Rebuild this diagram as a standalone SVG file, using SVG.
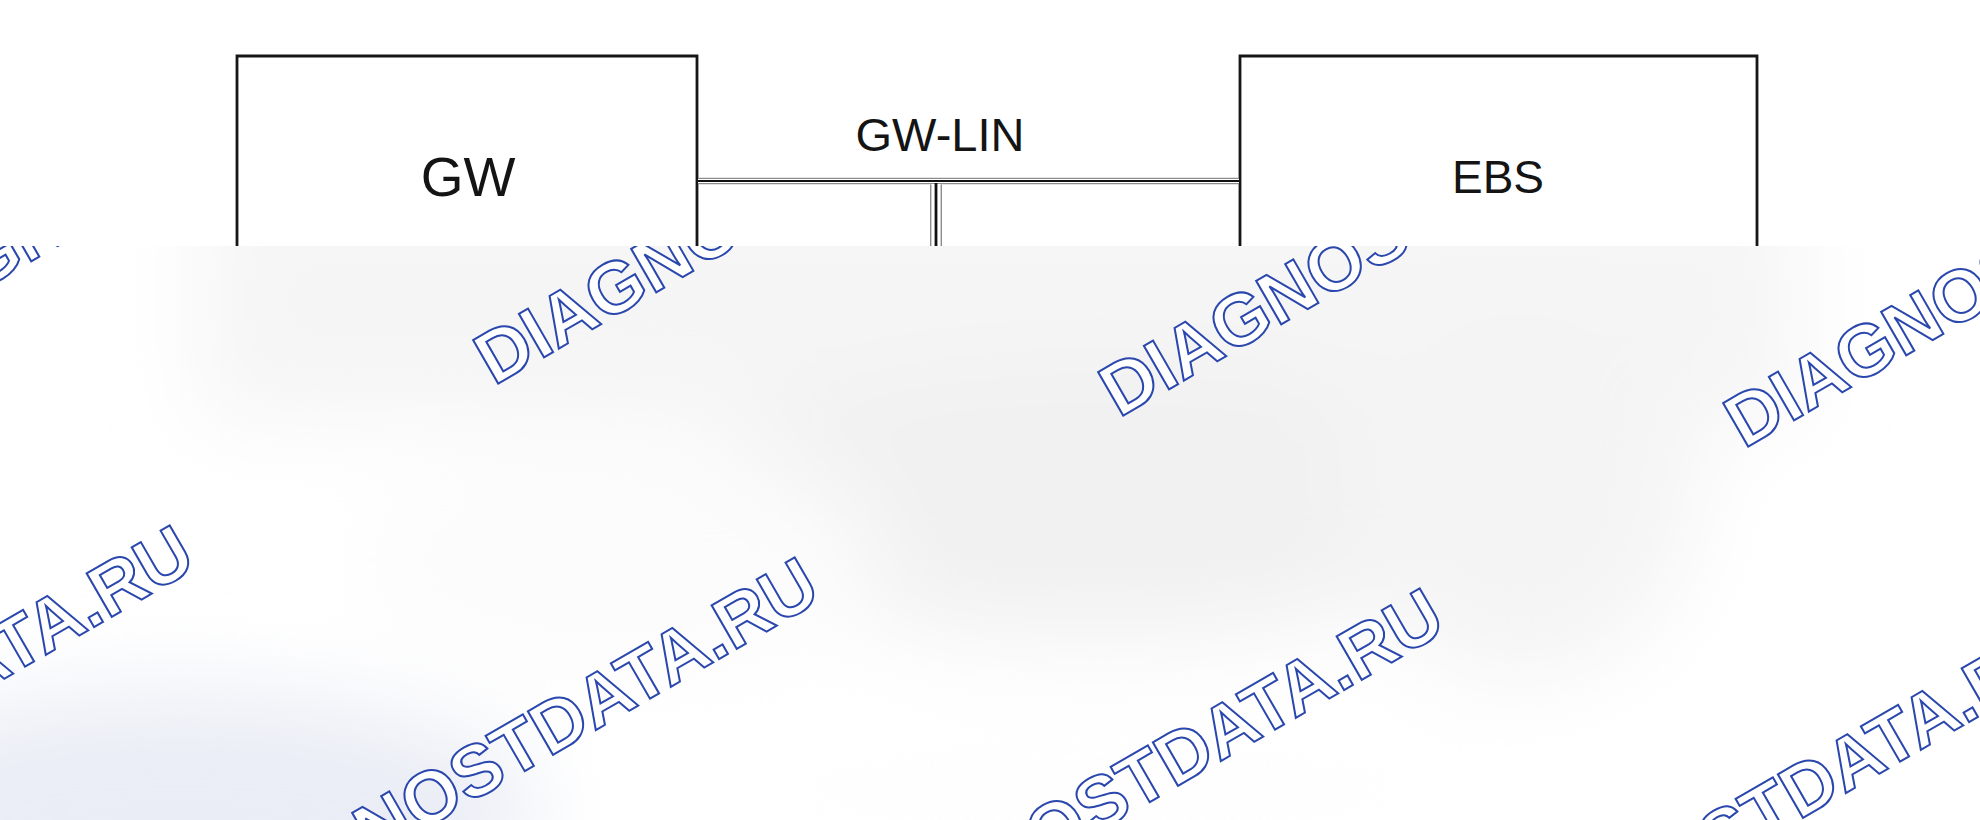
<svg xmlns="http://www.w3.org/2000/svg" width="1980" height="820" viewBox="0 0 1980 820">
<defs>
<style>
.box{fill:none;stroke:#161616;stroke-width:2.8}
.lbl{font-family:"Liberation Sans",Arial,sans-serif;fill:#141414;text-anchor:middle}
.wm{font-family:"Liberation Sans",Arial,sans-serif;font-weight:bold;font-size:73px;fill:#ffffff;stroke:#2a47ad;stroke-width:2}
.bus-o{stroke:#8c8c8c;fill:none}
.bus-w{stroke:#ffffff;fill:none}
.bus-c{stroke:#111111;fill:none}
</style>
<clipPath id="lower"><rect x="0" y="246" width="1980" height="574"/></clipPath>
<filter id="blur" x="-50%" y="-50%" width="200%" height="200%"><feGaussianBlur stdDeviation="45"/></filter>
</defs>
<rect x="0" y="0" width="1980" height="820" fill="#ffffff"/>
<g id="node-gw">
<path class="box" d="M237,260 V56 H697 V260"/>
<text class="lbl" x="468" y="196" font-size="55">GW</text>
</g>
<g id="node-ebs">
<path class="box" d="M1240,260 V56 H1757 V260"/>
<text class="lbl" x="1498" y="193" font-size="46">EBS</text>
</g>
<g id="connectors">
<line class="bus-o" x1="698" y1="181" x2="1239" y2="181" stroke-width="6.4"/>
<line class="bus-w" x1="698" y1="181" x2="1239" y2="181" stroke-width="4.2"/>
<line class="bus-c" x1="698" y1="181" x2="1239" y2="181" stroke-width="2.2"/>
<line class="bus-o" x1="936" y1="184.5" x2="936" y2="260" stroke-width="12"/>
<line class="bus-w" x1="936" y1="184" x2="936" y2="260" stroke-width="9.2"/>
<line class="bus-c" x1="936" y1="183" x2="936" y2="260" stroke-width="2.8"/>
<text class="lbl" x="940" y="151" font-size="47">GW-LIN</text>
</g>
<g id="lower-band" clip-path="url(#lower)">
<rect x="0" y="246" width="1980" height="574" fill="#ffffff"/>
<g filter="url(#blur)">
<rect x="200" y="180" width="1600" height="240" fill="#f5f5f5"/>
<ellipse cx="1100" cy="500" rx="420" ry="140" fill="#f1f1f1"/>
<ellipse cx="1520" cy="480" rx="180" ry="200" fill="#f4f4f4"/>
<ellipse cx="180" cy="810" rx="360" ry="120" fill="#eaedf5"/>
<ellipse cx="620" cy="560" rx="260" ry="120" fill="#fcfcfc"/>
<ellipse cx="1100" cy="790" rx="400" ry="90" fill="#fefefe"/>
</g>
<g id="watermarks">
<text class="wm" transform="translate(-131,355) rotate(-30)">DIAGNOSTDATA.RU</text>
<text class="wm" transform="translate(494,386) rotate(-30)">DIAGNOSTDATA.RU</text>
<text class="wm" transform="translate(1119,418) rotate(-30)">DIAGNOSTDATA.RU</text>
<text class="wm" transform="translate(1744,449) rotate(-30)">DIAGNOSTDATA.RU</text>
<text class="wm" transform="translate(-410,918) rotate(-30)">DIAGNOSTDATA.RU</text>
<text class="wm" transform="translate(215,950) rotate(-30)">DIAGNOSTDATA.RU</text>
<text class="wm" transform="translate(840,981) rotate(-30)">DIAGNOSTDATA.RU</text>
<text class="wm" transform="translate(1465,1013) rotate(-30)">DIAGNOSTDATA.RU</text>
</g>
</g>
</svg>
